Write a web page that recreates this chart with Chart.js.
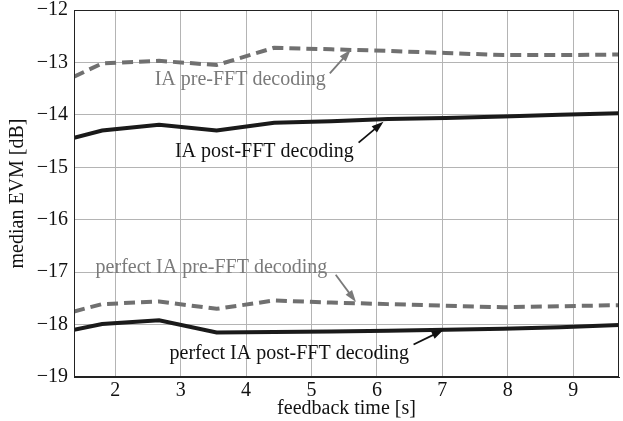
<!DOCTYPE html>
<html>
<head>
<meta charset="utf-8">
<script src="https://cdn.jsdelivr.net/npm/chart.js@4/dist/chart.umd.min.js"></script>
<style>
  body { margin: 0; background: #fff; }
  canvas { display: block; }
</style>
</head>
<body>
<canvas id="myChart" width="623" height="421"></canvas>
<script>
// feedback times (s) and median EVM values (dB)
var feedbackTimes = [1.37, 1.8, 2.67, 3.55, 4.43, 5.3, 6.17, 7.05, 7.93, 8.8, 9.7];
var iaPre         = [-13.27, -13.02, -12.97, -13.05, -12.72, -12.75, -12.78, -12.82, -12.86, -12.86, -12.85];
var iaPost        = [-14.44, -14.30, -14.19, -14.30, -14.15, -14.12, -14.08, -14.06, -14.03, -14.00, -13.97];
var perfectPre    = [-17.75, -17.61, -17.56, -17.70, -17.54, -17.58, -17.61, -17.64, -17.67, -17.65, -17.63];
var perfectPost   = [-18.10, -17.99, -17.92, -18.15, -18.14, -18.13, -18.12, -18.10, -18.08, -18.05, -18.01];
var xTicks = [2, 3, 4, 5, 6, 7, 8, 9];
var yTicks = [-19, -18, -17, -16, -15, -14, -13, -12];

// annotation labels: text, label position, arrow tail, arrow head (data units)
var labels = [
  { text: "IA pre-FFT decoding", color: "#7a7a7a", at: [3.91, -13.33], tail: [5.28, -13.21], head: [5.60, -12.76] },
  { text: "IA post-FFT decoding", color: "#111", at: [4.28, -14.70], tail: [5.72, -14.53], head: [6.10, -14.13] },
  { text: "perfect IA pre-FFT decoding", color: "#7a7a7a", at: [3.47, -16.91], tail: [5.37, -17.05], head: [5.68, -17.57] },
  { text: "perfect IA post-FFT decoding", color: "#111", at: [4.66, -18.55], tail: [6.56, -18.38], head: [7.02, -18.10] }
];

function toPoints(vals) {
  return vals.map(function (v, i) { return { x: feedbackTimes[i], y: v }; });
}

var annotate = {
  id: "annotate",
  afterDatasetsDraw: function (chart) {
    var ctx = chart.ctx, xs = chart.scales.x, ys = chart.scales.y;
    ctx.save();
    ctx.font = "20px 'Liberation Serif'";
    ctx.textAlign = "center";
    ctx.textBaseline = "middle";
    for (var l of labels) {
      ctx.fillStyle = l.color;
      ctx.strokeStyle = l.color;
      ctx.fillText(l.text, xs.getPixelForValue(l.at[0]), ys.getPixelForValue(l.at[1]));
      var x0 = xs.getPixelForValue(l.tail[0]), y0 = ys.getPixelForValue(l.tail[1]);
      var x1 = xs.getPixelForValue(l.head[0]), y1 = ys.getPixelForValue(l.head[1]);
      var a = Math.atan2(y1 - y0, x1 - x0);
      ctx.lineWidth = 1.8;
      ctx.beginPath();
      ctx.moveTo(x0, y0);
      ctx.lineTo(x1 - 8 * Math.cos(a), y1 - 8 * Math.sin(a));
      ctx.stroke();
      ctx.beginPath();
      ctx.moveTo(x1, y1);
      ctx.lineTo(x1 - 12 * Math.cos(a) + 4 * Math.sin(a), y1 - 12 * Math.sin(a) - 4 * Math.cos(a));
      ctx.lineTo(x1 - 12 * Math.cos(a) - 4 * Math.sin(a), y1 - 12 * Math.sin(a) + 4 * Math.cos(a));
      ctx.closePath();
      ctx.fill();
    }
    // axes box
    var area = chart.chartArea;
    ctx.strokeStyle = "#222";
    ctx.lineWidth = 1;
    ctx.strokeRect(area.left + 0.5, area.top + 0.5, area.right - area.left - 1, area.bottom - area.top - 1);
    ctx.restore();
  }
};

var dark = "#1a1a1a", gray = "#707070";

new Chart("myChart", {
  type: "line",
  data: {
    datasets: [
      { data: toPoints(iaPre), borderColor: gray, borderDash: [11, 6], borderWidth: 4 },
      { data: toPoints(iaPost), borderColor: dark, borderWidth: 4 },
      { data: toPoints(perfectPre), borderColor: gray, borderDash: [11, 6], borderWidth: 4 },
      { data: toPoints(perfectPost), borderColor: dark, borderWidth: 4 }
    ]
  },
  options: {
    responsive: false,
    animation: false,
    elements: { point: { radius: 0 }, line: { tension: 0, borderCapStyle: "butt" } },
    layout: { padding: { top: 10, right: 4, left: 6, bottom: 0 } },
    plugins: { legend: { display: false }, tooltip: { enabled: false } },
    scales: {
      x: {
        type: "linear",
        min: feedbackTimes[0],
        max: feedbackTimes[feedbackTimes.length - 1],
        afterBuildTicks: function (s) { s.ticks = xTicks.map(function (v) { return { value: v }; }); },
        afterFit: function (s) { s.height = 44; },
        grid: { color: "#b4b4b4", drawTicks: false },
        border: { color: "#222" },
        ticks: { color: "#111", padding: 2, font: { family: "Liberation Serif", size: 20 } },
        title: { display: true, text: "feedback time [s]", color: "#111", padding: 0, font: { family: "Liberation Serif", size: 20 } }
      },
      y: {
        min: -19,
        max: -12,
        afterBuildTicks: function (s) { s.ticks = yTicks.map(function (v) { return { value: v }; }); },
        afterFit: function (s) { s.width = 68; s.paddingTop = 0; s.paddingBottom = 0; },
        grid: { color: "#b4b4b4", drawTicks: false },
        border: { color: "#222" },
        ticks: {
          color: "#111", padding: 6, font: { family: "Liberation Serif", size: 20 },
          callback: function (v) { return String(v).replace("-", "\u2212"); }
        },
        title: { display: true, text: "median EVM [dB]", color: "#111", padding: 0, font: { family: "Liberation Serif", size: 20 } }
      }
    }
  },
  plugins: [annotate]
});
</script>
</body>
</html>
